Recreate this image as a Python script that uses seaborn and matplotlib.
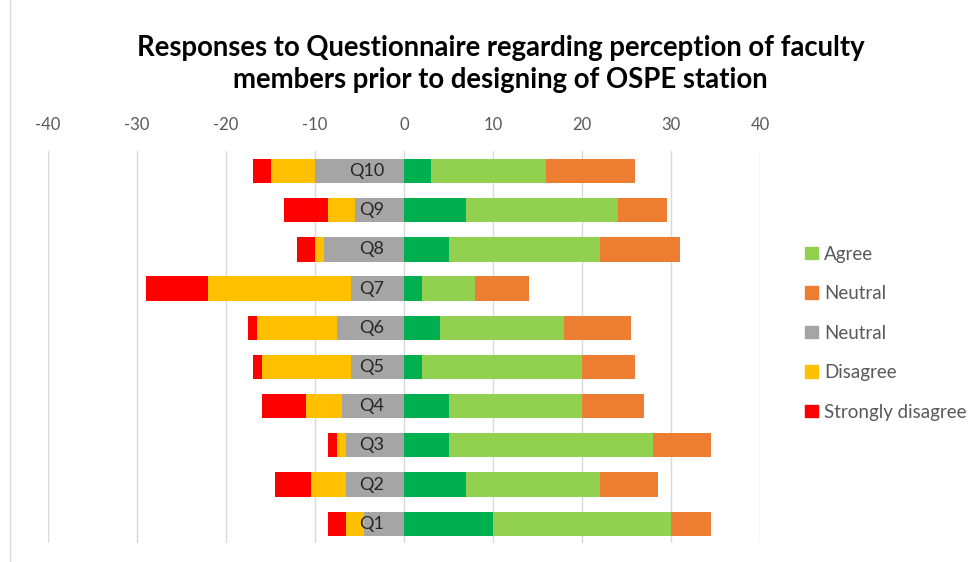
import matplotlib
matplotlib.use("Agg")
import matplotlib.pyplot as plt
import matplotlib.patches as mpatches
from matplotlib.lines import Line2D
import numpy as np
import pandas as pd
import seaborn as sns

questions = ["Q1", "Q2", "Q3", "Q4", "Q5", "Q6", "Q7", "Q8", "Q9", "Q10"]
strongly_agree = [10, 7, 5, 5, 2, 4, 2, 5, 7, 3]
agree = [20, 15, 23, 15, 18, 14, 6, 17, 17, 13]
neutral = [9, 13, 13, 14, 12, 15, 12, 18, 11, 20]
disagree = [2, 4, 1, 4, 10, 9, 16, 1, 3, 5]
strongly_disagree = [2, 4, 1, 5, 1, 1, 7, 2, 5, 2]
xticks = [-40, -30, -20, -10, 0, 10, 20, 30, 40]

c_sa = "#00B050"
c_a = "#92D050"
c_no = "#ED7D31"
c_ng = "#A5A5A5"
c_d = "#FFC000"
c_sd = "#FF0000"

df = pd.DataFrame({"q": questions, "sa": strongly_agree, "a": agree,
                   "n": neutral, "d": disagree, "sd": strongly_disagree})
half = df["n"] / 2
# cumulative ends for the diverging stack (neutral split around zero)
df["r1"] = df["sa"]
df["r2"] = df["sa"] + df["a"]
df["r3"] = df["sa"] + df["a"] + half
df["l1"] = -half
df["l2"] = -half - df["d"]
df["l3"] = -half - df["d"] - df["sd"]

order = questions[::-1]

sns.set_style("white")
plt.rcParams["font.family"] = ["Lato", "DejaVu Sans"]

fig = plt.figure(figsize=(9.76, 5.62), dpi=100)
ax = fig.add_axes([0.0492, 0.0333, 0.7295, 0.6973])

bw = 0.62
# draw longest first, then overlay shorter segments
for col, color in [("r3", c_no), ("r2", c_a), ("r1", c_sa),
                   ("l3", c_sd), ("l2", c_d), ("l1", c_ng)]:
    sns.barplot(data=df, x=col, y="q", order=order, color=color,
                width=bw, orient="h", ax=ax, linewidth=0, saturation=1)

for i, q in enumerate(order):
    ax.text(-2.2, i, q, ha="right", va="center", fontsize=13, color="#262626")

ax.set_xlim(-40, 40)
ax.set_ylim(9.5, -0.5)
ax.set_xticks(xticks)
ax.set_xticklabels([str(t) for t in xticks])
ax.xaxis.tick_top()
ax.tick_params(axis="x", length=0, labelsize=12, labelcolor="#595959", pad=13)
ax.set_yticks([])
ax.set_xlabel("")
ax.set_ylabel("")
ax.grid(axis="x", color="#D9D9D9", linewidth=1)
ax.set_axisbelow(True)
for s in ax.spines.values():
    s.set_visible(False)

fig.suptitle("Responses to Questionnaire regarding perception of faculty\n"
             "members prior to designing of OSPE station",
             x=0.513, y=0.938, fontsize=19.8, fontweight="bold", color="#000000",
             linespacing=1.28)

handles = [mpatches.Patch(color=c_a, label="Agree"),
           mpatches.Patch(color=c_no, label="Neutral"),
           mpatches.Patch(color=c_ng, label="Neutral"),
           mpatches.Patch(color=c_d, label="Disagree"),
           mpatches.Patch(color=c_sd, label="Strongly disagree")]
fig.legend(handles=handles, loc="upper left", bbox_to_anchor=(0.808, 0.593),
           frameon=False, fontsize=13.5, labelcolor="#595959",
           handlelength=0.65, handleheight=0.65, handletextpad=0.35,
           labelspacing=1.2)

fig.add_artist(Line2D([0.0103, 0.0103], [0, 1], color="#D9D9D9", linewidth=1))

fig.savefig("out.png", dpi=100)
